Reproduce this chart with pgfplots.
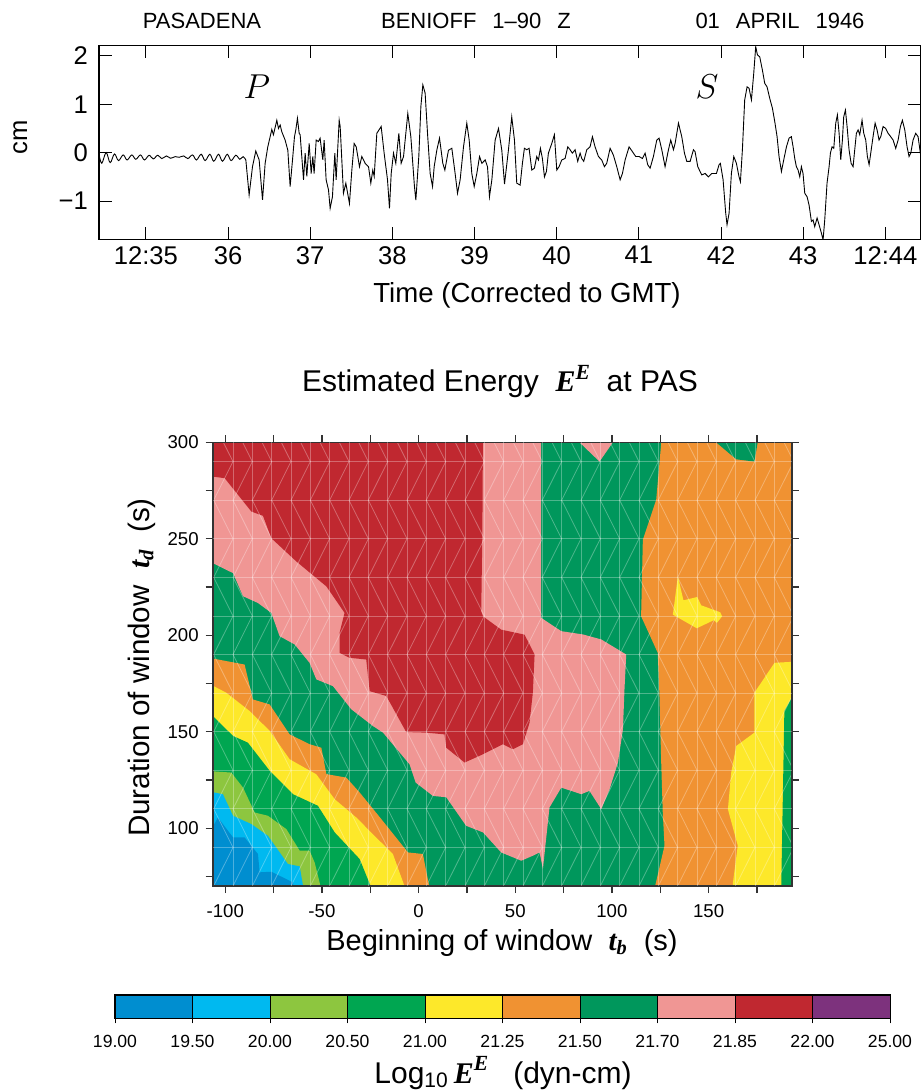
\documentclass[border=0pt]{standalone}
\usepackage{fontspec}
\setmainfont{Liberation Sans}
\newfontfamily\serif{Liberation Serif}
\usepackage{pgfplots}
\pgfplotsset{compat=1.18}
\definecolor{cA}{RGB}{0,142,208}
\definecolor{cB}{RGB}{0,185,240}
\definecolor{cC}{RGB}{141,198,63}
\definecolor{cD}{RGB}{0,166,81}
\definecolor{cE}{RGB}{253,232,42}
\definecolor{cF}{RGB}{240,146,50}
\definecolor{cG}{RGB}{0,151,92}
\definecolor{cH}{RGB}{240,150,148}
\definecolor{cI}{RGB}{192,40,48}
\definecolor{cJ}{RGB}{125,50,125}
\newcommand{\bi}[1]{{\serif\bfseries\itshape #1}}
\newcommand{\supE}{\raisebox{0.42em}{\fontsize{0.72em}{1em}\selectfont\bi{E}}}
\begin{document}
\begin{tikzpicture}
\useasboundingbox (0,0) rectangle (461.5pt,-545pt);
% ---------------- seismogram ----------------
\begin{axis}[at={(49.5pt,-119.65pt)}, anchor=south west, scale only axis,
  width=410.85pt, height=96.8pt,
  xmin=34.43, xmax=44.43, ymin=-1.79, ymax=2.21,
  xtick={35,36,37,38,39,40,41,42,43,44},
  xticklabels={12:35,36,37,38,39,40,41,42,43,12:44},
  ytick={-1,0,1,2}, yticklabels={−1,0,1,2},
  tick align=inside, major tick length=6.3pt,
  tick style={black, line width=0.5pt},
  axis line style={line width=0.7pt},
  ticklabel style={font=\fontsize{12.8}{14}\selectfont},
  yticklabel style={xshift=-2pt}]
\addplot[black, line width=0.45pt, smooth, tension=0.6] coordinates {
(34.432,-0.047)(34.464,-0.219)(34.517,0.001)(34.566,-0.206)(34.618,-0.027)(34.667,-0.164)(34.724,-0.047)(34.772,-0.151)(34.829,-0.047)(34.878,-0.137)(34.935,-0.047)(34.983,-0.151)(35.040,-0.054)(35.089,-0.130)(35.146,-0.054)(35.194,-0.123)(35.251,-0.068)(35.300,-0.116)(35.357,-0.082)(35.405,-0.096)(35.462,-0.068)(35.511,-0.123)(35.568,-0.047)(35.616,-0.151)(35.673,-0.033)(35.722,-0.164)(35.779,-0.033)(35.827,-0.178)(35.884,-0.033)(35.933,-0.178)(35.990,-0.033)(36.038,-0.164)(36.095,-0.054)(36.144,-0.137)(36.184,-0.082)(36.217,-0.151)
};
\addplot[black, line width=0.45pt] coordinates {
(36.217,-0.151)(36.257,-0.874)(36.298,-0.290)(36.338,0.034)(36.379,-0.15)(36.420,-0.977)(36.452,-0.22)(36.484,0.12)(36.513,0.33)(36.533,0.48)(36.553,0.37)(36.594,0.67)(36.614,0.50)(36.635,0.57)(36.655,0.43)(36.695,0.26)(36.728,0.05)(36.756,-0.70)(36.785,-0.15)(36.809,0.33)(36.825,0.47)(36.845,0.71)(36.866,0.40)(36.878,0.37)
(36.919,-0.56)(36.939,-0.01)(36.959,-0.49)(36.988,0.19)(37.012,-0.43)(37.032,-0.08)(37.048,-0.43)(37.073,0.26)(37.101,0.23)(37.121,0.30)(37.154,-0.15)(37.170,0.26)(37.194,-0.56)(37.223,-0.77)(37.243,-1.15)(37.271,-0.91)(37.300,-0.01)(37.316,-0.56)(37.353,0.67)(37.365,0.54)(37.405,-0.84)(37.434,-0.63)(37.478,-1.05)(37.507,-0.36)(37.535,0.19)(37.560,0.12)(37.600,-0.29)(37.628,-0.08)(37.669,-0.22)(37.710,-0.29)(37.738,-0.63)(37.762,-0.36)(37.779,-0.49)(37.811,0.40)(37.864,0.54)(37.900,-0.01)(37.941,-0.56)(37.965,-1.15)(37.986,-0.43)(38.014,-0.01)(38.042,-0.22)(38.079,0.40)(38.107,-0.22)(38.136,-0.08)(38.188,0.81)(38.225,0.33)(38.269,-0.70)(38.286,-0.98)(38.322,-0.08)(38.347,0.95)(38.371,1.40)(38.399,1.23)(38.428,0.40)(38.460,-0.43)(38.489,-0.70)(38.509,-0.29)(38.541,0.05)(38.574,0.30)(38.614,-0.22)(38.639,-0.36)(38.683,0.05)(38.724,0.09)(38.764,-0.43)(38.793,-0.84)(38.825,-0.56)(38.866,0.12)(38.906,0.61)(38.935,0.26)(38.967,-0.43)(38.996,-0.70)(39.028,-0.43)(39.061,-0.08)(39.089,-0.22)(39.130,-0.15)(39.158,-0.29)(39.182,-0.91)(39.211,-0.56)(39.251,0.26)(39.292,0.50)(39.332,0.05)(39.365,-0.65)
(39.413,0.06)(39.453,0.74)(39.486,0.26)(39.514,-0.63)(39.555,-0.67)(39.583,-0.22)(39.607,0.09)(39.636,0.06)(39.664,0.09)(39.697,-0.36)(39.729,-0.32)(39.757,-0.08)(39.778,-0.15)(39.802,0.09)(39.826,-0.12)(39.851,-0.50)(39.875,-0.39)(39.899,-0.01)(39.940,0.19)(39.972,0.37)(40.001,-0.36)(40.029,-0.29)(40.062,-0.15)(40.102,-0.12)(40.135,0.12)(40.163,0.06)(40.191,-0.01)(40.224,0.06)(40.256,-0.18)(40.285,-0.01)(40.305,-0.12)(40.329,-0.18)(40.366,0.06)(40.406,0.12)(40.435,0.33)(40.467,0.12)(40.508,-0.08)(40.548,-0.15)(40.581,-0.29)(40.609,-0.22)(40.650,0.09)(40.690,-0.05)(40.731,-0.29)(40.772,-0.56)(40.800,-0.43)(40.833,-0.15)(40.881,0.12)(40.922,0.02)(40.962,-0.08)(41.003,-0.08)(41.043,-0.12)(41.076,-0.01)(41.108,-0.25)(41.137,-0.32)(41.177,-0.08)(41.218,0.26)(41.246,0.30)(41.279,0.06)(41.319,-0.29)(41.360,0.06)(41.388,0.26)(41.421,0.06)(41.441,0.19)(41.482,0.61)(41.522,0.33)(41.555,-0.01)(41.583,-0.18)(41.624,-0.18)(41.664,0.06)(41.684,0.02)(41.717,-0.29)(41.765,-0.46)(41.806,-0.43)(41.847,-0.50)(41.887,-0.43)
(41.944,-0.43)(41.976,-0.25)(41.992,-0.22)(42.025,-0.56)(42.057,-1.25)(42.073,-1.49)(42.098,-1.25)(42.126,-0.43)(42.155,-0.08)(42.187,-0.22)(42.219,-0.50)(42.236,-0.60)(42.260,0.06)(42.288,1.09)(42.317,1.36)(42.341,1.33)(42.370,1.09)(42.398,1.64)(42.422,2.19)(42.443,2.02)(42.471,1.98)(42.503,1.71)(42.532,1.43)(42.560,1.36)(42.593,1.12)(42.625,0.92)(42.654,0.64)(42.682,0.33)(42.706,-0.08)(42.735,-0.39)(42.763,-0.15)(42.796,0.12)(42.828,0.30)(42.856,0.33)(42.877,0.12)(42.897,-0.12)(42.917,-0.29)(42.938,-0.36)(42.958,-0.50)(42.978,-0.29)(42.998,-0.43)(43.019,-0.84)(43.047,-0.91)(43.071,-1.08)(43.100,-1.42)(43.120,-1.39)(43.140,-1.53)(43.169,-1.35)(43.193,-1.49)(43.221,-1.66)(43.242,-1.80)(43.262,-1.39)(43.290,-0.63)(43.315,-0.29)(43.331,-0.01)(43.351,0.12)(43.372,0.09)(43.396,0.61)(43.416,0.78)(43.437,0.40)(43.457,-0.15)(43.477,0.26)(43.493,0.74)(43.514,0.88)(43.534,0.54)(43.558,0.06)(43.583,-0.22)(43.607,-0.29)(43.627,0.06)(43.647,0.40)(43.668,0.47)(43.688,0.37)(43.716,0.67)(43.737,0.40)(43.761,0.26)(43.781,-0.08)(43.802,-0.25)(43.822,-0.01)(43.850,0.33)(43.875,0.61)(43.899,0.47)(43.923,0.26)(43.944,0.33)(43.972,0.54)(44.004,0.50)(44.033,0.40)(44.065,0.33)(44.094,0.26)(44.126,0.09)(44.155,0.26)(44.183,0.54)(44.207,0.67)(44.236,0.47)(44.264,0.12)(44.288,-0.08)(44.309,-0.01)(44.337,0.26)(44.369,0.40)(44.398,0.33)(44.426,-0.01)(44.450,-0.36)
};
\end{axis}
\node[anchor=base, font=\fontsize{11}{12}\selectfont] at (101pt,-14.2pt) {PASADENA};
\node[anchor=base, font=\fontsize{11}{12}\selectfont] at (238pt,-14.2pt) {BENIOFF\hspace{8pt}1–90\hspace{8pt}Z};
\node[anchor=base, font=\fontsize{11}{12}\selectfont] at (390pt,-14.2pt) {01\hspace{8pt}APRIL\hspace{8pt}1946};
\node[anchor=base, font=\fontsize{13.8}{15}\selectfont] at (263.5pt,-151.5pt) {Time (Corrected to GMT)};
\node[anchor=base, rotate=90, font=\fontsize{12.8}{14}\selectfont] at (13.5pt,-68.5pt) {cm};
\node[anchor=base] at (128.5pt,-49.5pt) {\fontsize{18}{20}\selectfont $P$};
\node[anchor=base] at (353.5pt,-49.5pt) {\fontsize{18}{20}\selectfont $S$};
% ---------------- energy contour ----------------
\node[anchor=base, font=\fontsize{15}{17}\selectfont] at (250pt,-196pt) {Estimated Energy\ \ \bi{E}\supE\ \ at PAS};
\begin{axis}[at={(106.35pt,-443pt)}, anchor=south west, scale only axis,
  width=289.5pt, height=221.85pt,
  xmin=-106.5, xmax=193, ymin=70, ymax=300, axis on top,
  tick align=outside, major tick length=3.5pt, minor tick length=3.5pt,
  xtick={-100,-50,0,50,100,150}, xticklabels={-100,-50,0,50,100,150},
  ytick={100,150,200,250,300}, yticklabels={100,150,200,250,300},
  minor xtick={-75,-25,25,75,125,175}, minor ytick={75,125,175,225,275},
  extra x ticks={-96,-86,...,184}, extra y ticks={90,110,...,290},
  extra x tick labels={}, extra y tick labels={},
  extra tick style={major tick length=0pt, grid=major, major grid style={white, opacity=0.3, line width=0.4pt}},
  axis line style={line width=0.8pt, black!80},
  tick style={black!80, line width=0.6pt},
  ticklabel style={font=\fontsize{9.3}{10}\selectfont},
  xticklabel style={yshift=-2pt}]
\addplot[fill=cG, draw=none] coordinates {(-110,65)(200,65)(200,305)(-110,305)} --cycle;
% pink
\addplot[fill=cH, draw=none] coordinates {(-110,305)(-110,239.1)(-96.0,232.2)(-90.8,220.2)(-83.1,216.7)(-76.2,211.6)(-71.9,199.5)(-64.1,195.2)(-56.4,185.7)(-52.9,177.1)(-44.3,173.6)(-34.8,161.6)(-23.6,152.9)(-18.4,149.5)(-4.7,133.1)(-1.5,123.6)(7.4,116.7)(14.3,116.0)(24.6,101.2)(33.3,97.8)(42.7,87.4)(53.1,83.1)(59.1,85.7)(62.6,87.4)(64.3,78.8)(67.7,110.7)(73.8,121.0)(84.1,117.6)(88.4,119.3)(94.5,109.8)(98.8,120.2)(103.1,133.9)(105.7,151.2)(106.5,171.9)(107.4,190.0)(103.1,192.6)(94.5,197.8)(85.0,200.4)(73.8,202.1)(63.4,209.0)(63.4,305)} --cycle;
\addplot[fill=cH, draw=none] coordinates {(83.2,305)(83.2,300)(93.6,290)(100.5,300)(100.5,305)} --cycle;
% red
\addplot[fill=cI, draw=none] coordinates {(-110,305)(-110,282.7)(-100.3,281.4)(-86.5,264.1)(-80.5,261.9)(-76.2,250.3)(-63.3,238.3)(-47.7,225.3)(-38.3,211.6)(-40.9,201.2)(-40.9,190.9)(-35.7,188.3)(-27.1,187.4)(-25.3,171.0)(-16.7,168.5)(-6.4,149.8)(4.0,149.5)(13.4,148.6)(14.3,141.7)(23.8,134.0)(33.3,138.3)(43.6,143.5)(48.8,140.9)(54.0,143.5)(57.4,154.7)(59.1,170.2)(60.0,190.0)(54.8,200.3)(42.7,202.9)(33.3,209.8)(32.4,212.4)(33.0,254.6)(33.3,305)} --cycle;
% orange right
\addplot[fill=cF, draw=none] coordinates {(125.5,305)(125.5,299.5)(122.9,270.2)(116.0,249.5)(115.1,209.8)(123.7,190.9)(124.6,168.5)(125.5,133.9)(126.3,108.1)(127.2,90.9)(121.2,65)(200,65)(200,305)} --cycle;
\addplot[fill=cG, draw=none] coordinates {(153.9,305)(153.9,300)(164.3,291.2)(173.7,290.0)(175.4,300)(175.4,305)} --cycle;
% yellow spot and right yellow
\addplot[fill=cE, draw=none] coordinates {(134.1,230.5)(137.0,218.1)(144.1,219.8)(146.2,215.5)(156.0,211.9)(157.0,209.8)(154.3,206.4)(152.7,207.8)(143.9,203.6)(131.5,210.7)(131.9,213.3)} --cycle;
\addplot[fill=cE, draw=none] coordinates {(162.5,65)(162.5,71)(165.1,90.9)(160.0,109.8)(161.7,128.8)(164.3,142.6)(173.7,149.5)(173.7,170.2)(184.1,185.7)(200,186.6)(200,65)} --cycle;
\addplot[fill=cD, draw=none] coordinates {(187.5,65)(189.2,160.7)(193.5,168.5)(200,168.5)(200,65)} --cycle;
% lower-left bands
\addplot[fill=cF, draw=none] coordinates {(-110,188.6)(-90.0,184.8)(-85.7,166.7)(-77.0,164.1)(-66.7,148.6)(-56.4,143.5)(-50.3,141.7)(-47.7,128.0)(-37.4,126.2)(-30.5,118.5)(-19.3,104.7)(-5.5,87.4)(2.2,86.6)(6.5,65)(-110,65)} --cycle;
\addplot[fill=cE, draw=none] coordinates {(-110,175.7)(-99.5,170.2)(-87.4,160.7)(-77.0,150.4)(-66.7,135.7)(-52.9,127.9)(-43.4,115.0)(-32.2,105.5)(-22.8,96.0)(-13.3,86.6)(-5.5,65)(-110,65)} --cycle;
\addplot[fill=cD, draw=none] coordinates {(-110,161.6)(-96.0,147.8)(-88.3,144.3)(-77.0,129.7)(-65.0,117.6)(-52.1,111.6)(-43.4,97.8)(-30.5,84.0)(-22.8,65)(-110,65)} --cycle;
\addplot[fill=cC, draw=none] coordinates {(-110,129.7)(-96.9,128.8)(-90.8,121.0)(-84.8,108.1)(-77.9,106.4)(-68.4,99.5)(-61.5,88.3)(-56.4,88.3)(-53.8,82.3)(-49.5,65)(-110,65)} --cycle;
\addplot[fill=cB, draw=none] coordinates {(-110,119.3)(-101.2,117.6)(-96.0,106.4)(-86.5,102.1)(-77.9,96.0)(-67.6,81.4)(-61.5,80.2)(-58.9,65)(-110,65)} --cycle;
\addplot[fill=cA, draw=none] coordinates {(-110,94.3)(-103.8,105.5)(-96.0,95.2)(-90.0,95.2)(-83.1,86.6)(-82.2,77.1)(-76.2,77.4)(-65.0,71.9)(-64.1,65)(-110,65)} --cycle;
% triangulation mesh
\pgfplotsforeachungrouped \a/\b in {-106/-96,-96/-86,-86/-76,-76/-66,-66/-56,-56/-46,-46/-36,-36/-26,-26/-16,-16/-6,-6/4,4/14,14/24,24/34,34/44,44/54,54/64,64/74,74/84,84/94,94/104,104/114,114/124,124/134,134/144,144/154,154/164,164/174,174/184,184/194}{%
  \edef\tmp{\noexpand\addplot[white, opacity=0.3, line width=0.4pt, forget plot] coordinates {(\a,70) (\b,90) (\a,110) (\b,130) (\a,150) (\b,170) (\a,190) (\b,210) (\a,230) (\b,250) (\a,270) (\b,290) (\a,310)};}\tmp
}
\end{axis}
\node[anchor=base, font=\fontsize{14.5}{16}\selectfont] at (251pt,-475pt) {Beginning of window \ \bi{t}\textsubscript{\bi{b}} \ (s)};
\node[anchor=base, rotate=90, font=\fontsize{14.8}{16}\selectfont] at (74.5pt,-333.75pt) {Duration of window \ \bi{t}\textsubscript{\bi{d}} \ (s)};
% ---------------- colour bar ----------------
\begin{axis}[at={(57.5pt,-509.2pt)}, anchor=south west, scale only axis,
  width=387.5pt, height=11.7pt, xmin=0, xmax=10, ymin=0, ymax=1,
  xtick={0,1,2,3,4,5,6,7,8,9,10},
  xticklabels={19.00,19.50,20.00,20.50,21.00,21.25,21.50,21.70,21.85,22.00,25.00},
  ytick=\empty, xtick pos=bottom, tick align=outside, major tick length=2.5pt,
  axis line style={line width=0.6pt}, tick style={black, line width=0.5pt},
  ticklabel style={font=\fontsize{8.8}{10}\selectfont}, xticklabel style={yshift=-2.5pt}]
\addplot[fill=cA, draw=black, line width=0.4pt] coordinates {(0,0)(1,0)(1,1)(0,1)} --cycle;
\addplot[fill=cB, draw=black, line width=0.4pt] coordinates {(1,0)(2,0)(2,1)(1,1)} --cycle;
\addplot[fill=cC, draw=black, line width=0.4pt] coordinates {(2,0)(3,0)(3,1)(2,1)} --cycle;
\addplot[fill=cD, draw=black, line width=0.4pt] coordinates {(3,0)(4,0)(4,1)(3,1)} --cycle;
\addplot[fill=cE, draw=black, line width=0.4pt] coordinates {(4,0)(5,0)(5,1)(4,1)} --cycle;
\addplot[fill=cF, draw=black, line width=0.4pt] coordinates {(5,0)(6,0)(6,1)(5,1)} --cycle;
\addplot[fill=cG, draw=black, line width=0.4pt] coordinates {(6,0)(7,0)(7,1)(6,1)} --cycle;
\addplot[fill=cH, draw=black, line width=0.4pt] coordinates {(7,0)(8,0)(8,1)(7,1)} --cycle;
\addplot[fill=cI, draw=black, line width=0.4pt] coordinates {(8,0)(9,0)(9,1)(8,1)} --cycle;
\addplot[fill=cJ, draw=black, line width=0.4pt] coordinates {(9,0)(10,0)(10,1)(9,1)} --cycle;
\end{axis}
\node[anchor=base, font=\fontsize{15}{16}\selectfont] at (251.5pt,-541.5pt) {Log\textsubscript{10}\,\bi{E}\supE\ \ \ (dyn-cm)};
\end{tikzpicture}
\end{document}
